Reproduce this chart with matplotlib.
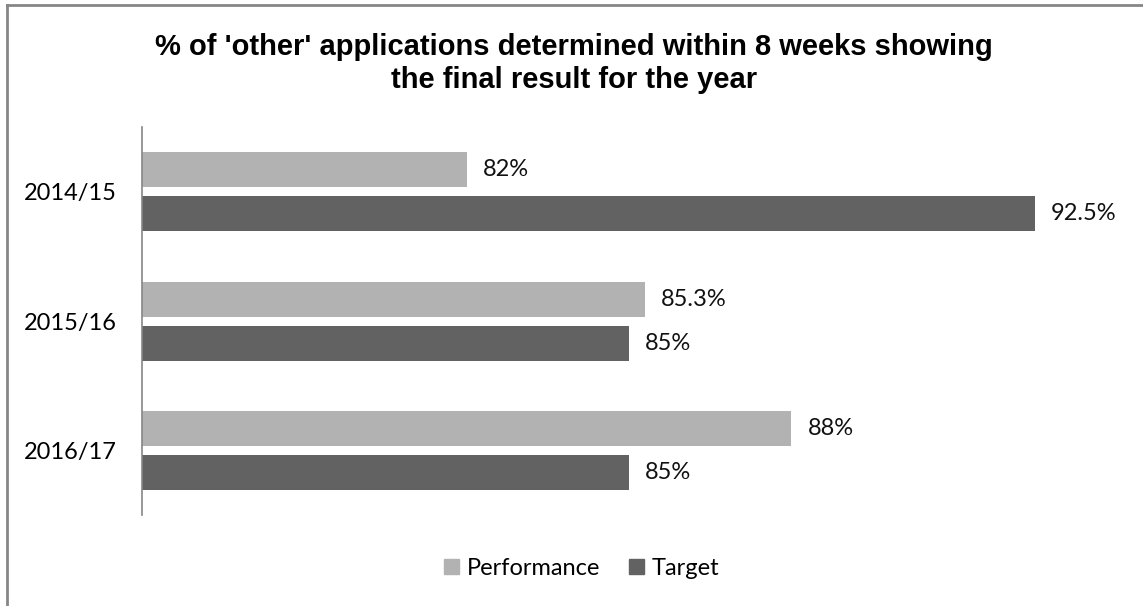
import matplotlib.pyplot as plt
import numpy as np
from matplotlib.patches import Patch

years = ["2014/15", "2015/16", "2016/17"]
performance = [82, 85.3, 88]
target = [92.5, 85, 85]
perf_labels = ["82%", "85.3%", "88%"]
target_labels = ["92.5%", "85%", "85%"]

light = "#b2b2b2"
dark = "#626262"
label_font = "Lato"
fs = 17

fig = plt.figure(figsize=(11.43, 6.06), dpi=100)
ax = fig.add_axes([0.1242, 0.150, 0.852, 0.640])

# chart border (left and top edges visible)
fig.add_artist(plt.Line2D([0.0065, 0.0065], [0, 0.991], color="#868686", lw=2, transform=fig.transFigure))
fig.add_artist(plt.Line2D([0.0065, 1.0], [0.991, 0.991], color="#868686", lw=2, transform=fig.transFigure))

y = np.arange(len(years))
h = 0.27
off = 0.17
xmin = 76
ax.barh(y - off, np.array(performance) - xmin, left=xmin, height=h, color=light, label="Performance")
ax.barh(y + off, np.array(target) - xmin, left=xmin, height=h, color=dark, label="Target")

for i in range(len(years)):
    ax.text(performance[i] + 0.3, y[i] - off, perf_labels[i], va="center", ha="left",
            fontsize=fs, family=label_font, color="#111111")
    ax.text(target[i] + 0.3, y[i] + off, target_labels[i], va="center", ha="left",
            fontsize=fs, family=label_font, color="#111111")

ax.set_xlim(xmin, 94)
ax.set_ylim(2.5, -0.5)
ax.set_yticks(y)
ax.set_yticklabels(years, fontsize=fs, family=label_font)
ax.tick_params(axis="y", length=0, pad=18)
ax.set_xticks([])
for s in ["top", "right", "bottom"]:
    ax.spines[s].set_visible(False)
ax.spines["left"].set_color("#868686")
ax.spines["left"].set_linewidth(1.2)

fig.text(0.502, 0.895, "% of 'other' applications determined within 8 weeks showing\nthe final result for the year",
         ha="center", va="center", fontsize=21, fontweight="bold", family="Liberation Sans",
         linespacing=1.22)

handles = [Patch(color=light, label="Performance"), Patch(color=dark, label="Target")]
fig.legend(handles=handles, loc="center", bbox_to_anchor=(0.509, 0.062), ncol=2, frameon=False,
           prop={"family": label_font, "size": fs}, handlelength=0.64, handleheight=0.64,
           handletextpad=0.34, columnspacing=1.19)

fig.savefig("out.png", dpi=100, facecolor="white")
